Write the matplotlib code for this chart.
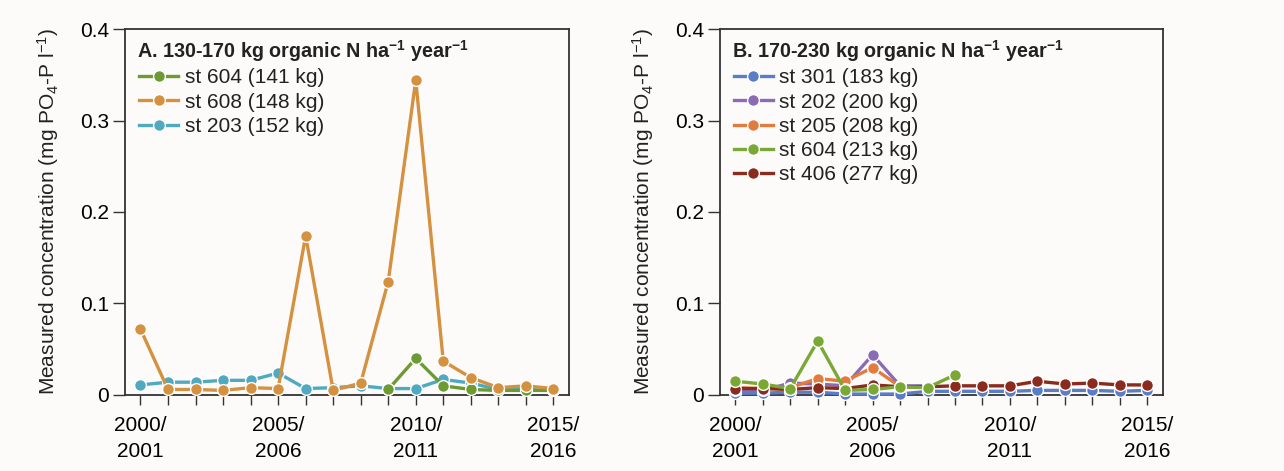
import matplotlib
matplotlib.use("Agg")
import matplotlib.pyplot as plt

plt.rcParams['font.family'] = ['Liberation Sans', 'DejaVu Sans']
plt.rcParams['mathtext.fontset'] = 'custom'
plt.rcParams['mathtext.rm'] = 'Liberation Sans'
plt.rcParams['mathtext.bf'] = 'Liberation Sans:bold'
plt.rcParams['mathtext.it'] = 'Liberation Sans:italic'

# seasons 2000/2001 ... 2015/2016 -> index 0..15
years = list(range(16))
tick_labels = ['2000/\n2001', '', '', '', '', '2005/\n2006', '', '', '', '',
               '2010/\n2011', '', '', '', '', '2015/\n2016']

# panel A: 130-170 kg organic N
a_st604_x = [9, 10, 11, 12, 13, 14, 15]
a_st604 = [0.006, 0.040, 0.010, 0.006, 0.005, 0.005, 0.005]
a_st608 = [0.072, 0.006, 0.006, 0.005, 0.008, 0.007, 0.174, 0.005,
           0.013, 0.124, 0.344, 0.037, 0.019, 0.008, 0.010, 0.007]
a_st203 = [0.011, 0.014, 0.014, 0.016, 0.016, 0.024, 0.007, 0.008,
           0.010, 0.007, 0.007, 0.017, 0.013, 0.006, 0.006, 0.005]

# panel B: 170-230 kg organic N
b_st301 = [0.002, 0.002, 0.003, 0.003, 0.001, 0.001, 0.001, 0.004,
           0.004, 0.004, 0.004, 0.005, 0.005, 0.005, 0.004, 0.005]
b_early_x = [0, 1, 2, 3, 4, 5, 6, 7]
b_st202 = [0.005, 0.005, 0.013, 0.012, 0.010, 0.044, 0.010, 0.010]
b_st205 = [0.008, 0.007, 0.008, 0.018, 0.015, 0.030, 0.009, 0.009]
b_st604_x = [0, 1, 2, 3, 4, 5, 6, 7, 8]
b_st604 = [0.015, 0.012, 0.007, 0.059, 0.005, 0.006, 0.009, 0.008, 0.022]
b_st406 = [0.007, 0.007, 0.006, 0.008, 0.007, 0.011, 0.009, 0.009,
           0.010, 0.010, 0.010, 0.015, 0.012, 0.013, 0.011, 0.011]

bg = '#fdfbf9'
fig = plt.figure(figsize=(12.84, 4.71), dpi=100, facecolor=bg)
axA = fig.add_axes([0.0974, 0.1614, 0.3458, 0.777], facecolor=bg)
axB = fig.add_axes([0.5607, 0.1614, 0.3450, 0.777], facecolor=bg)

style = dict(marker='o', markersize=8.5, linewidth=2.4, markeredgecolor='white',
             markeredgewidth=1.0, clip_on=False)

hA_teal, = axA.plot(years, a_st203, color='#4fa9c1', label='st 203 (152 kg)', zorder=3, **style)
hA_green, = axA.plot(a_st604_x, a_st604, color='#6c9a33', label='st 604 (141 kg)', zorder=4, **style)
hA_orange, = axA.plot(years, a_st608, color='#d4913f', label='st 608 (148 kg)', zorder=5, **style)

hB_blue, = axB.plot(years, b_st301, color='#5b7cc6', label='st 301 (183 kg)', zorder=3, **style)
hB_purple, = axB.plot(b_early_x, b_st202, color='#8a6bb6', label='st 202 (200 kg)', zorder=4, **style)
hB_orange, = axB.plot(b_early_x, b_st205, color='#e27b3d', label='st 205 (208 kg)', zorder=5, **style)
hB_red, = axB.plot(years, b_st406, color='#8a2b1d', label='st 406 (277 kg)', zorder=6, **style)
hB_green, = axB.plot(b_st604_x, b_st604, color='#7aa834', label='st 604 (213 kg)', zorder=7, **style)

titles = [r'A. 130-170 kg organic N ha$^{\mathbf{-1}}$ year$^{\mathbf{-1}}$',
          r'B. 170-230 kg organic N ha$^{\mathbf{-1}}$ year$^{\mathbf{-1}}$']
handles = [[hA_green, hA_orange, hA_teal],
           [hB_blue, hB_purple, hB_orange, hB_green, hB_red]]

for ax, title, hs in zip([axA, axB], titles, handles):
    ax.set_xlim(-0.56, 15.57)
    ax.set_ylim(0, 0.4)
    ax.set_yticks([0, 0.1, 0.2, 0.3, 0.4])
    ax.set_yticklabels(['0', '0.1', '0.2', '0.3', '0.4'])
    ax.set_xticks(years)
    ax.set_xticklabels(tick_labels, linespacing=1.45)
    ax.tick_params(axis='y', direction='out', length=8.5, width=1, labelsize=15,
                   color='#333333', pad=3)
    ax.tick_params(axis='x', direction='out', length=7, width=1, labelsize=15,
                   color='#333333', pad=8)
    for sp in ax.spines.values():
        sp.set_color('#333333')
        sp.set_linewidth(1.3)
    ax.set_ylabel(r'Measured concentration (mg PO$_4$-P l$^{-1}$)', fontsize=15,
                  color='#222222')
    ax.yaxis.set_label_coords(-0.145, 0.5)
    ax.text(0.027, 0.975, title, transform=ax.transAxes, ha='left', va='top',
            fontsize=14.2, fontweight='bold', color='#222222')
    ax.legend(handles=hs, loc='upper left', bbox_to_anchor=(0.012, 0.915), frameon=False,
              fontsize=15, handlelength=1.9, handletextpad=0.3, labelspacing=0.25,
              borderaxespad=0.3, borderpad=0.1, labelcolor='#222222')

fig.savefig('out.png', dpi=100, facecolor=bg)
